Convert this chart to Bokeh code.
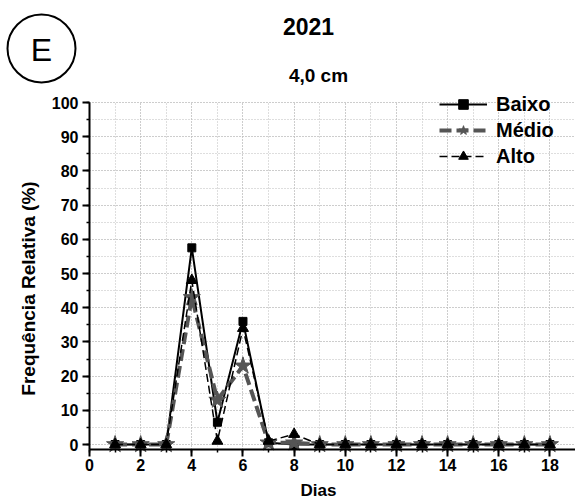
import numpy as np
from bokeh.plotting import figure
from bokeh.models import (Label, Legend, LegendItem, SingleIntervalTicker,
                          Range1d)
from bokeh.embed import file_html
from bokeh.resources import INLINE

# ---- data ----
dias = list(range(1, 19))
baixo = [0, 0, 0, 57.5, 6.5, 36, 0.5, 0, 0, 0, 0, 0, 0, 0, 0, 0, 0, 0]
medio = [0, 0, 0, 43, 13, 23, 0.5, 0.5, 0, 0, 0, 0, 0, 0, 0, 0, 0, 0]
alto = [0, 0, 0, 48, 1, 34, 1, 3, 0, 0, 0, 0, 0, 0, 0, 0, 0, 0]

titulo = "2021"
subtitulo = "4,0 cm"
painel = "E"
x_label = "Dias"
y_label = "Frequência Relativa (%)"

FONT = "Liberation Sans"
W, H = 575, 502

# page-pixel layout of the data area
X0_PX, XU = 89.0, 25.58      # x = 0 at 89 px, px per day
Y0_PX, YU = 444.0, 3.42      # y = 0 at 444 px, px per %
Y_AXIS_AT = -1.46            # x axis line sits slightly below 0
X_MAX, Y_MAX = 19.0, 100


def dx(px):
    return (px - X0_PX) / XU


def dy(py):
    return (Y0_PX - py) / YU


p = figure(width=W, height=H,
           x_range=Range1d(dx(0), dx(W)), y_range=Range1d(dy(H), dy(0)),
           output_backend="svg", toolbar_location=None, min_border=0)
p.outline_line_color = None
p.background_fill_color = "white"
p.border_fill_color = "white"

p.xaxis.ticker = SingleIntervalTicker(interval=2, num_minor_ticks=2)
p.yaxis.ticker = SingleIntervalTicker(interval=10, num_minor_ticks=2)
p.xaxis.fixed_location = Y_AXIS_AT
p.yaxis.fixed_location = 0
p.xaxis.bounds = (0, X_MAX)
p.yaxis.bounds = (Y_AXIS_AT, Y_MAX)
for ax in (p.xaxis[0], p.yaxis[0]):
    ax.axis_line_width = 2
    ax.axis_line_color = "black"
    ax.major_tick_line_width = 2
    ax.minor_tick_line_width = 1.5
    ax.major_tick_out = 7
    ax.major_tick_in = 0
    ax.minor_tick_out = 3
    ax.minor_tick_in = 0
    ax.major_label_text_font = FONT
    ax.major_label_text_font_style = "bold"
    ax.major_label_text_font_size = "16px"
    ax.major_label_text_color = "black"
p.xaxis.major_label_standoff = 3
p.yaxis.major_label_standoff = 4

p.xgrid.bounds = (0, X_MAX)
p.xgrid.cross_bounds = (Y_AXIS_AT, Y_MAX)
p.ygrid.bounds = (0, Y_MAX)
p.ygrid.cross_bounds = (0, X_MAX)
for g in (p.xgrid[0], p.ygrid[0]):
    g.grid_line_color = "#bdbdbd"
    g.grid_line_dash = "1 2"
    g.grid_line_width = 1
    g.minor_grid_line_color = "#bdbdbd"
    g.minor_grid_line_dash = "1 2"
    g.minor_grid_line_width = 1

l1 = p.line(dias, baixo, line_color="black", line_width=2)
s1 = p.scatter(dias, baixo, marker="square", size=8, color="black")
l2 = p.line(dias, medio, line_color="#555555", line_width=4, line_dash="12 5")
s2 = p.scatter(dias, medio, marker="star", size=18, color="#555555")
l3 = p.line(dias, alto, line_color="black", line_width=1.5, line_dash="8 4")
s3 = p.scatter(dias, alto, marker="triangle", size=11, color="black")

legend = Legend(items=[LegendItem(label="Baixo", renderers=[l1, s1]),
                       LegendItem(label="Médio", renderers=[l2, s2]),
                       LegendItem(label="Alto", renderers=[l3, s3])],
                location=(439, H - 168), border_line_color=None,
                background_fill_alpha=0, padding=0, margin=0, spacing=2,
                glyph_width=48, glyph_height=24, label_height=24,
                label_standoff=9, label_text_font=FONT,
                label_text_color="black",
                label_text_font_style="bold", label_text_font_size="20px")
p.add_layout(legend)


def label(px, py, text, size, bold=True, angle=0.0):
    p.add_layout(Label(x=dx(px), y=dy(py), text=text, angle=angle,
                       text_font=FONT, text_color="black",
                       text_font_style="bold" if bold else "normal",
                       text_font_size=size, text_align="center",
                       text_baseline="middle"))


label(308, 26, titulo, "23px")
label(318, 75, subtitulo, "19px")
label(28, 288, y_label, "19px", angle=np.pi / 2)
label(318, 490, x_label, "17px")

# panel letter in a circle
p.scatter(x=[dx(41)], y=[dy(48)], marker="circle", size=68,
          fill_alpha=0, line_color="black", line_width=2)
label(41, 49, painel, "32px", bold=False)

open("out.html", "w").write(file_html(p, INLINE))
